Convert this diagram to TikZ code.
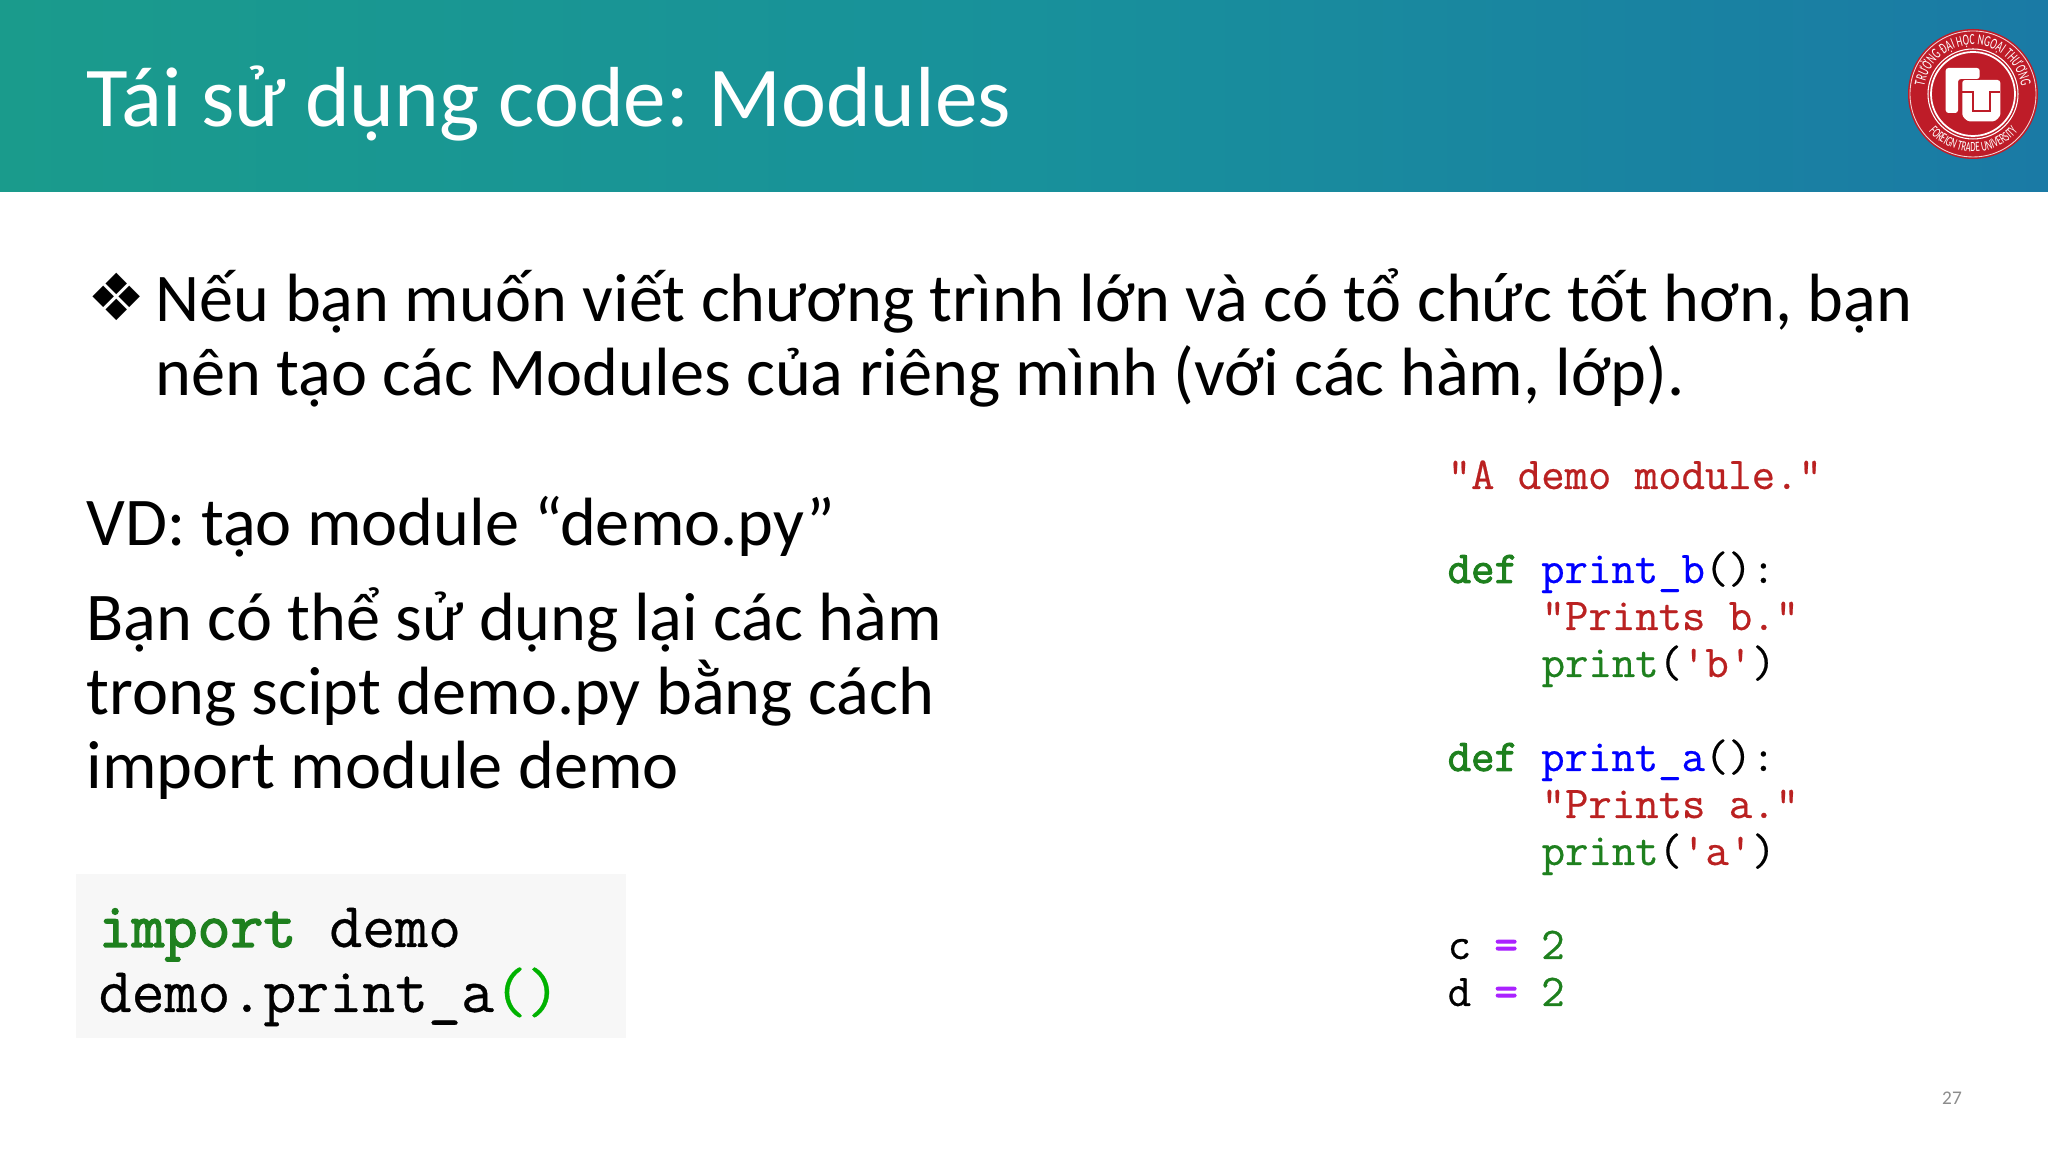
\documentclass[tikz,border=0pt]{standalone}
\usepackage{fontspec}
\setmainfont{Carlito}
\newfontfamily\bulletfont{DejaVu Sans}
\newfontfamily\codefont[FakeBold=0.5]{Latin Modern Mono}
\newfontfamily\codebold[FakeBold=2.2]{Latin Modern Mono}
\newfontfamily\logofont[FakeStretch=0.62]{Carlito}
\usetikzlibrary{decorations.text}
\frenchspacing
\definecolor{tealL}{RGB}{26,155,140}
\definecolor{tealM}{RGB}{24,145,155}
\definecolor{tealR}{RGB}{26,122,165}
\definecolor{codeRed}{RGB}{186,33,33}
\definecolor{codeGreen}{RGB}{30,128,30}
\definecolor{codeBlue}{RGB}{0,0,255}
\definecolor{codePurple}{RGB}{170,34,255}
\definecolor{logoRed}{RGB}{190,28,40}
\newcommand{\str}[1]{\textcolor{codeRed}{#1}}
\newcommand{\kw}[1]{\textcolor{codeGreen}{\codebold #1}}
\newcommand{\bi}[1]{\textcolor{codeGreen}{#1}}
\newcommand{\fn}[1]{\textcolor{codeBlue}{#1}}
\newcommand{\eqop}{\textcolor{codePurple}{\codebold =}}
\newcommand{\dq}{\textquotedbl}
\newcommand{\sq}{\textquotesingle}

\begin{document}
\begin{tikzpicture}
[
titletext/.style = {anchor=base west, inner sep=0, text=white, font=\fontsize{24.25}{29}\selectfont},
bodytext/.style  = {anchor=base west, inner sep=0, font=\fontsize{19.43}{24}\selectfont},
codeblock/.style = {anchor=base west, inner sep=0, font=\codefont\fontsize{12.92}{14}\selectfont},
importcode/.style = {anchor=base west, inner sep=0, font=\codefont\fontsize{18.2}{20}\selectfont},
]
\useasboundingbox (0,0) rectangle (20.48,11.52);
\fill[white] (0,0) rectangle (20.48,11.52);
\shade[left color=tealL, right color=tealR, middle color=tealM] (0,9.60) rectangle (20.48,11.52);

\node at (0.86,10.25)[titletext] (title) {Tái sử dụng code: Modules};

\node at (0.87,8.31)[anchor=base west, inner sep=0, font=\bulletfont\fontsize{18.5}{22}\selectfont] (bullet) {❖};
\node at (1.55,8.30)[bodytext] (intro1) {Nếu bạn muốn viết chương trình lớn và có tổ chức tốt hơn, bạn};
\node at (1.55,7.56)[bodytext] (intro2) {nên tạo các Modules của riêng mình (với các hàm, lớp).};
\node at (0.86,6.06)[bodytext] (vd) {VD: tạo module “demo.py”};
\node at (0.86,5.11)[bodytext] (reuse1) {Bạn có thể sử dụng lại các hàm};
\node at (0.86,4.37)[bodytext] (reuse2) {trong scipt demo.py bằng cách};
\node at (0.86,3.63)[bodytext] (reuse3) {import module demo};

\fill[black!3] (0.76,1.14) rectangle (6.26,2.78);
\node at (0.98,2.05)[importcode] (importline) {\kw{import} demo};
\node at (0.98,1.40)[importcode] (callline) {demo.print\_a\textcolor{green!70!black}{()}};

\node at (14.47,6.63)[codeblock] (demoa) {\str{\dq A demo module.\dq}};
\node at (14.47,5.69)[codeblock] (defb) {\kw{def} \fn{print\_b}():};
\node at (15.41,5.22)[codeblock] (docb) {\str{\dq Prints b.\dq}};
\node at (15.41,4.75)[codeblock] (printb) {\bi{print}(\str{\sq b\sq})};
\node at (14.47,3.81)[codeblock] (defa) {\kw{def} \fn{print\_a}():};
\node at (15.41,3.34)[codeblock] (doca) {\str{\dq Prints a.\dq}};
\node at (15.41,2.87)[codeblock] (printa) {\bi{print}(\str{\sq a\sq})};
\node at (14.47,1.93)[codeblock] (varc) {c \eqop{} \bi{2}};
\node at (14.47,1.46)[codeblock] (vard) {d \eqop{} \bi{2}};

\node at (19.52,0.54)[inner sep=0, text=black!45, font=\fontsize{5.5}{7}\selectfont] (pagenum) {27};

\begin{scope}[shift={(19.73,10.58)}]
\fill[logoRed] (0,0) circle (0.65);
\draw[white!80!logoRed, line width=0.25pt] (0,0) circle (0.63);
\draw[white, line width=0.3pt] (0,0) circle (0.45);
\draw[white, line width=0.5pt] (0,0) circle (0.42);
\path[decorate, decoration={text along path, text align=center, text color=white, text={|\logofont\fontsize{4.4}{5}\selectfont|TRƯỜNG ĐẠI HỌC NGOẠI THƯƠNG}}] (-0.49,-0.04) arc[start angle=185, end angle=-5, radius=0.49];
\path[decorate, decoration={text along path, text align=center, text color=white, text={|\logofont\fontsize{4.0}{5}\selectfont|FOREIGN TRADE UNIVERSITY}}] (-0.56,-0.14) arc[start angle=194, end angle=346, radius=0.58];
\fill[white, rounded corners=0.8pt] (-0.107,0.14) -- (0.273,0.14) -- (0.273,-0.173) arc[start angle=0, end angle=-90, radius=0.10] -- (-0.007,-0.273) arc[start angle=270, end angle=180, radius=0.10] -- cycle;
\fill[white, rounded corners=0.8pt] (-0.273,0.26) -- (0.067,0.26) -- (0.067,0.15) -- (-0.15,0.15) -- (-0.15,-0.19) -- (-0.273,-0.19) -- cycle;
\draw[logoRed, line width=0.5pt] (-0.12,0.145) -- (0.07,0.145);
\draw[logoRed, line width=0.6pt] (-0.107,0.02) -- (0,0.02) -- (0,-0.173) -- (0.167,-0.173) -- (0.167,0.02) -- (0.273,0.02);
\end{scope}
\end{tikzpicture}
\end{document}
